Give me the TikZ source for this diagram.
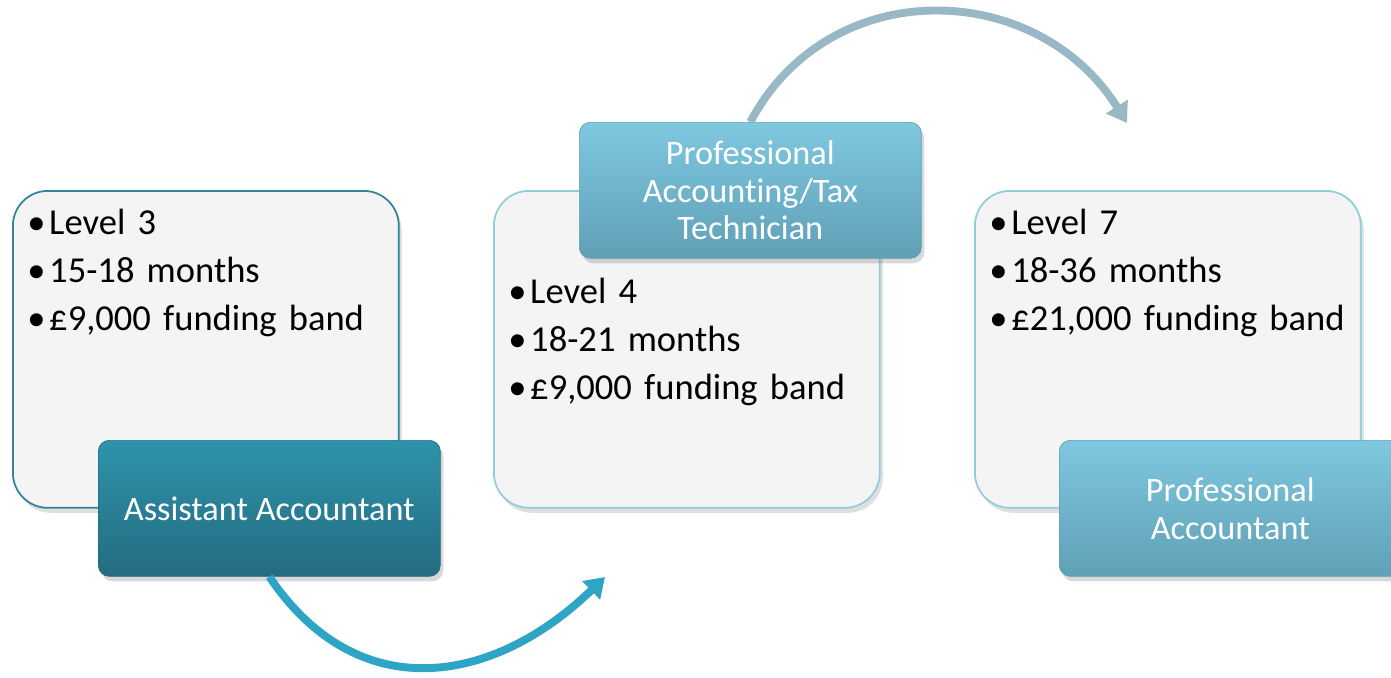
\documentclass[tikz,border=0pt]{standalone}
\usepackage{fontspec}
\setmainfont{Carlito}[Ligatures=NoCommon]
\usepackage{tikz}
\usetikzlibrary{positioning,shadows,arrows.meta}
\definecolor{boxfill}{HTML}{F4F4F4}
\definecolor{darkline}{HTML}{31849B}
\definecolor{lightline}{HTML}{92CDDC}
\definecolor{darktop}{HTML}{2E93AB}
\definecolor{darkbot}{HTML}{236C80}
\definecolor{lighttop}{HTML}{7EC8E0}
\definecolor{lightbot}{HTML}{60A0B6}
\definecolor{arrowone}{HTML}{2FA5C6}
\definecolor{arrowtwo}{HTML}{98B8C6}

\begin{document}
\begin{tikzpicture}
[x=0.02cm,y=-0.02cm,
infobox/.style={rounded corners=0.7cm, fill=boxfill, line width=1pt,
minimum width=7.72cm, minimum height=6.34cm, anchor=north west,
drop shadow={shadow xshift=0.06cm, shadow yshift=-0.1cm, opacity=0.25}},
listtext/.style={anchor=north west, inner sep=0pt, text width=7.2cm, align=left,
font=\fontsize{20.8}{27.2}\selectfont},
rolebox/.style={rounded corners=0.22cm, text=white, minimum width=6.84cm,
minimum height=2.72cm, anchor=north west, align=center,
font=\fontsize{19.5}{21.5}\selectfont,
drop shadow={shadow xshift=0.06cm, shadow yshift=-0.1cm, opacity=0.3}},
darkrole/.style={rolebox, draw=darkbot, top color=darktop, bottom color=darkbot},
lightrole/.style={rolebox, draw=lightbot, top color=lighttop, bottom color=lightbot},
step arrow/.style={line width=4.5pt, -{Triangle[length=11pt,width=14pt]}}]
\useasboundingbox (0,0) rectangle (1391,677);

% stage one
\node[infobox, draw=darkline] (box1) at (12,190) {};
\node[listtext] (list1) at ([xshift=0.3cm,yshift=-0.22cm]box1.north west)
{\strut\makebox[0.6em][l]{•}Level 3\\
\makebox[0.6em][l]{•}15-18 months\\
\makebox[0.6em][l]{•}£9,000 funding band};
\node[darkrole] (role1) at (98,440) {Assistant Accountant};

% stage two
\node[infobox, draw=lightline] (box2) at (493,190) {};
\node[listtext] (list2) at ([xshift=0.3cm,yshift=-1.6cm]box2.north west)
{\strut\makebox[0.6em][l]{•}Level 4\\
\makebox[0.6em][l]{•}18-21 months\\
\makebox[0.6em][l]{•}£9,000 funding band};
\node[lightrole] (role2) at (579,122) {Professional\\Accounting/Tax\\Technician};

% stage three
\node[infobox, draw=lightline] (box3) at (974,190) {};
\node[listtext] (list3) at ([xshift=0.3cm,yshift=-0.22cm]box3.north west)
{\strut\makebox[0.6em][l]{•}Level 7\\
\makebox[0.6em][l]{•}18-36 months\\
\makebox[0.6em][l]{•}£21,000 funding band};
\node[lightrole] (role3) at (1059,440) {Professional\\Accountant};

% arrows between stages
\coordinate (tip1) at (605,577);
\coordinate (tip2) at (1127,123);
\draw[step arrow, arrowone] (role1.south) to[out=-56, in=224, looseness=1.2] (tip1);
\draw[step arrow, arrowtwo] (role2.north) to[out=62, in=122, looseness=1.15] (tip2);
\end{tikzpicture}
\end{document}
